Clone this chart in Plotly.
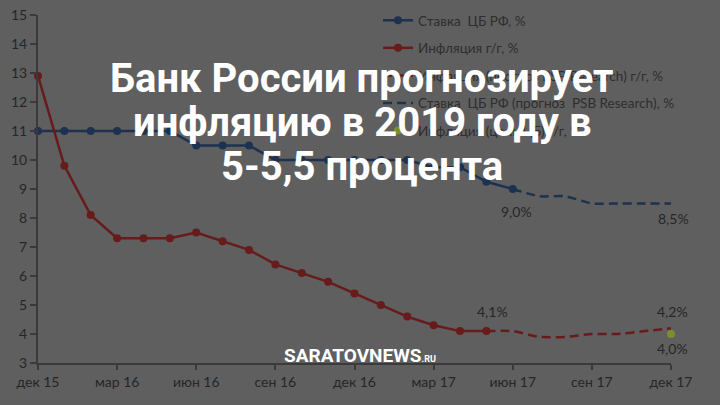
import plotly.graph_objects as go

# ---- data ----
tick_vals = [0, 3, 6, 9, 12, 15, 18, 21, 24]  # 0 = дек 15 ... 24 = дек 17
tick_text = ["дек 15", "мар 16", "июн 16", "сен 16", "дек 16", "мар 17", "июн 17", "сен 17", "дек 17"]

rate_x = list(range(0, 19))
rate_vals = [11, 11, 11, 11, 11, 11, 10.5, 10.5, 10.5, 10, 10, 10, 10, 10, 10, 9.75, 9.75, 9.25, 9.0]

rate_fc_x = list(range(18, 25))
rate_fc_vals = [9.0, 8.75, 8.75, 8.5, 8.5, 8.5, 8.5]

infl_x = list(range(0, 18))
infl_vals = [12.9, 9.8, 8.1, 7.3, 7.3, 7.3, 7.5, 7.2, 6.9, 6.4, 6.1, 5.8, 5.4, 5.0, 4.6, 4.3, 4.1, 4.1]

infl_fc_x = list(range(17, 25))
infl_fc_vals = [4.1, 4.1, 3.9, 3.9, 4.0, 4.0, 4.1, 4.2]

target_x = [24]
target_vals = [4.0]

names = [
    "Ставка  ЦБ РФ, %",
    "Инфляция г/г, %",
    "Инфляция (прогноз PSB Research) г/г, %",
    "Ставка  ЦБ РФ (прогноз  PSB Research), %",
    "Инфляция (цель ЦБ) г/г, %",
]

title_lines = ["Банк России прогнозирует", "инфляцию в 2019 году в", "5-5,5 процента"]

# ---- styles ----
BG = "#5f5f5f"
BLUE = "#1d3250"
RED = "#681b1b"
GREEN = "#7d8c2e"
AXIS = "#3a3a3a"
TXT = "#262626"

fig = go.Figure()
fig.add_trace(go.Scatter(x=rate_x, y=rate_vals, name=names[0], mode="lines+markers",
                         line=dict(color=BLUE, width=2.5), marker=dict(size=8, color=BLUE),
                         cliponaxis=False, legendgroup="a"))
fig.add_trace(go.Scatter(x=infl_x, y=infl_vals, name=names[1], mode="lines+markers",
                         line=dict(color=RED, width=2.5), marker=dict(size=8, color=RED),
                         cliponaxis=False, legendgroup="b"))
fig.add_trace(go.Scatter(x=infl_fc_x, y=infl_fc_vals, name=names[2], mode="lines",
                         line=dict(color=RED, width=2.5, dash="9px,5px", shape="spline", smoothing=0.6),
                         cliponaxis=False, legendgroup="c"))
fig.add_trace(go.Scatter(x=rate_fc_x, y=rate_fc_vals, name=names[3], mode="lines",
                         line=dict(color=BLUE, width=2.5, dash="9px,5px", shape="spline", smoothing=0.6),
                         cliponaxis=False, legendgroup="d"))
fig.add_trace(go.Scatter(x=target_x, y=target_vals, name=names[4], mode="markers",
                         marker=dict(size=8, color=GREEN),
                         cliponaxis=False, legendgroup="e"))

lab_font = dict(family="Lato", size=14, color=TXT)
labels = [
    (rate_fc_x[0], rate_fc_vals[0], "9,0%", 4, -22),
    (rate_fc_x[-1], rate_fc_vals[-1], "8,5%", 2, -15),
    (infl_x[-1], infl_vals[-1], "4,1%", 6, 20),
    (infl_fc_x[-1], infl_fc_vals[-1], "4,2%", 1, 17),
    (target_x[0], target_vals[0], "4,0%", 1, -14),
]
for x, y, t, xs, ys in labels:
    fig.add_annotation(x=x, y=y, text=t, showarrow=False, xshift=xs, yshift=ys, font=lab_font)

# title overlay
title_y = [78, 123, 166]  # pixel centres
for line, py in zip(title_lines, title_y):
    fig.add_annotation(xref="paper", yref="paper", x=(362 - 38) / 633, y=(363 - py) / 348,
                       text="<b>" + line + "</b>", showarrow=False, xanchor="center", yanchor="middle",
                       font=dict(family="Roboto", size=40, color="white"))

# watermark
fig.add_annotation(xref="paper", yref="paper", x=(360 - 38) / 633, y=(363 - 355) / 348,
                   text="<b>SARATOVNEWS</b><b><span style='font-size:9px'>.RU</span></b>",
                   showarrow=False, xanchor="center", yanchor="middle",
                   font=dict(family="Roboto", size=19, color="white"))

fig.update_layout(
    width=720, height=405,
    margin=dict(l=38, r=49, t=15, b=42, autoexpand=False),
    paper_bgcolor=BG, plot_bgcolor=BG,
    showlegend=True,
    legend=dict(x=(378 - 38) / 633, y=1 + 10 / 348, xanchor="left", yanchor="top",
                bgcolor="rgba(0,0,0,0)", font=dict(family="Lato", size=13.5, color="#2e2e2e"),
                tracegroupgap=7, traceorder="grouped"),
    xaxis=dict(range=[0, 24], tickvals=tick_vals, ticktext=tick_text, showgrid=False, zeroline=False,
               showline=True, linecolor=AXIS, linewidth=2, ticks="outside", ticklen=5, tickwidth=2,
               tickcolor=AXIS, tickfont=dict(family="Lato", size=14, color=TXT)),
    yaxis=dict(range=[3, 15], dtick=1, tick0=3, showgrid=False, zeroline=False,
               showline=True, linecolor=AXIS, linewidth=2, ticks="outside", ticklen=6, tickwidth=2,
               tickcolor=AXIS, tickfont=dict(family="Lato", size=14, color=TXT)),
)

fig.write_html("out.html", config={"displayModeBar": False},
               post_script="document.body.style.margin='0';document.body.style.background='%s';" % BG)
